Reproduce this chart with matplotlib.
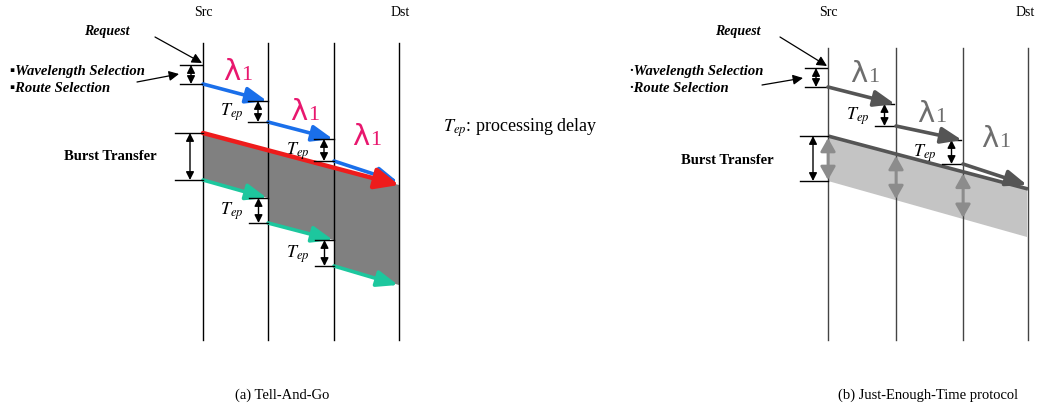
import numpy as np
import matplotlib.pyplot as plt

plt.rcParams['font.family'] = ['Liberation Serif', 'DejaVu Sans']
plt.rcParams['mathtext.fontset'] = 'stix'

# node positions along the path (Src ... Dst)
nodes_a = [203, 268, 334, 399]
nodes_b = [828, 896, 963, 1028]

# Tell-And-Go: control packet per hop (send time, arrival time)
request_a = 65
ctrl_start_a = [84, 122, 161]
ctrl_end_a = [101, 139, 182]
burst_top_a = [133, 185]
tail_start_a = [180, 223, 266]
tail_end_a = [198, 240, 285]

# Just-Enough-Time
request_b = 68
ctrl_start_b = [87, 126, 164]
ctrl_end_b = [104, 140, 185]
burst_top_b = [136, 189]
burst_bot_b = [181, 237]

node_labels = ["Src", "Dst"]
captions = ["(a) Tell-And-Go", "(b) Just-Enough-Time protocol"]

BLUE = "#1A6FEA"
RED = "#EE1C1C"
GREEN = "#1DC79E"
PINK = "#E8176E"
DARK = "#555555"


def arrow(ax, p0, p1, color, lw=2.6, hl=0.9, hw=0.35, ms=14, z=4, style="-|>"):
    ax.annotate("", xy=p1, xytext=p0,
                arrowprops=dict(arrowstyle=f"{style},head_length={hl},head_width={hw}",
                                color=color, lw=lw, mutation_scale=ms,
                                shrinkA=0, shrinkB=0),
                zorder=z)


def bracket(ax, x_right, y0, y1, width=20, color="black", ax_off=None):
    # two short ticks with a small double arrow between them
    ax.plot([x_right - width, x_right], [y0, y0], color=color, lw=1, zorder=5)
    ax.plot([x_right - width, x_right], [y1, y1], color=color, lw=1, zorder=5)
    xa = x_right - width / 2 if ax_off is None else x_right - ax_off
    arrow(ax, (xa, y0), (xa, y1), color, lw=1, hl=0.6, hw=0.3, ms=8,
          z=5, style="<|-|>")


def tep(ax, x, y):
    ax.text(x, y, r"$T_{ep}$", fontsize=13, ha="center", va="center", zorder=6)


def lam(ax, x, y, color):
    # symbol-style lambda with a roman subscript 1
    ax.text(x + 4, y + 2, "\u03bb", fontsize=21, color=color, family="DejaVu Sans",
            ha="right", va="baseline", zorder=6)
    ax.text(x + 5, y + 2, "1", fontsize=16, color=color, family="Liberation Serif",
            ha="left", va="baseline", zorder=6)


def left_notes(ax, src, req_y, sel_y0, sel_y1, x_req, x_sel, bullet, arr):
    ax.text(x_req, 32, "Request", fontsize=10, fontweight="bold",
            fontstyle="italic", ha="center", va="center")
    ax.text(x_sel, 71, bullet + "Wavelength Selection", fontsize=10.5,
            fontweight="bold", fontstyle="italic", ha="left", va="center")
    ax.text(x_sel, 88, bullet + "Route Selection", fontsize=10.5,
            fontweight="bold", fontstyle="italic", ha="left", va="center")
    ax.annotate("", xy=(src - 1, req_y - 2), xytext=arr[0],
                arrowprops=dict(arrowstyle="-|>,head_length=0.6,head_width=0.3",
                                color="black", lw=0.9, mutation_scale=10,
                                shrinkA=0, shrinkB=0))
    ax.annotate("", xy=arr[2], xytext=arr[1],
                arrowprops=dict(arrowstyle="-|>,head_length=0.6,head_width=0.3",
                                color="black", lw=0.9, mutation_scale=10,
                                shrinkA=0, shrinkB=0))
    bracket(ax, src - 1, sel_y0, sel_y1, width=22)


fig = plt.figure(figsize=(10.43, 4.09), dpi=100)
ax = fig.add_axes([0, 0, 1, 1])
ax.set_xlim(0, 1043)
ax.set_ylim(409, 0)
ax.axis("off")

# ---------------- (a) Tell-And-Go ----------------
for x in nodes_a:
    ax.plot([x, x], [43, 340], color="black", lw=1, zorder=3)
ax.text(nodes_a[0], 12, node_labels[0], fontsize=10, ha="center", va="center")
ax.text(nodes_a[-1] + 1, 12, node_labels[1], fontsize=10, ha="center", va="center")

left_notes(ax, nodes_a[0], request_a, request_a, ctrl_start_a[0], 107, 10, "\u25aa",
           [(155, 37), (137, 82), (179, 74)])

# burst body: top edge is the burst head, bottom edge follows the tail per hop
poly = [(nodes_a[0], burst_top_a[0]), (nodes_a[-1], burst_top_a[1])]
for i in range(len(nodes_a) - 2, -1, -1):
    poly.append((nodes_a[i + 1], tail_end_a[i]))
    poly.append((nodes_a[i], tail_start_a[i]))
ax.add_patch(plt.Polygon(poly, closed=True, facecolor="#808080",
                         edgecolor="none", zorder=2))

for i in range(3):
    arrow(ax, (nodes_a[i], ctrl_start_a[i]), (nodes_a[i + 1] - 1, ctrl_end_a[i]), BLUE)
    arrow(ax, (nodes_a[i], tail_start_a[i]), (nodes_a[i + 1] - 1, tail_end_a[i]), GREEN)
arrow(ax, (nodes_a[0], burst_top_a[0]), (nodes_a[-1], burst_top_a[1]), RED,
      lw=3.2, hl=0.9, hw=0.4, ms=16, z=4)

for i in range(2):
    bracket(ax, nodes_a[i + 1], ctrl_end_a[i], ctrl_start_a[i + 1], width=20)
    tep(ax, nodes_a[i + 1] - 36, (ctrl_end_a[i] + ctrl_start_a[i + 1]) / 2 + 1)
    bracket(ax, nodes_a[i + 1], tail_end_a[i], tail_start_a[i + 1], width=19)
    tep(ax, nodes_a[i + 1] - 36, (tail_end_a[i] + tail_start_a[i + 1]) / 2 + 1)

for x, y in [(236, 78), (303, 118), (365, 143)]:
    lam(ax, x, y, PINK)

bracket(ax, nodes_a[0], burst_top_a[0], tail_start_a[0], width=28, ax_off=13)
ax.text(110, 156, "Burst Transfer", fontsize=10.5, fontweight="bold",
        ha="center", va="center")

ax.text(443, 128, r"$T_{ep}$: processing delay", fontsize=13,
        ha="left", va="center")

# ---------------- (b) Just-Enough-Time ----------------
ax.add_patch(plt.Polygon([(nodes_b[0], burst_top_b[0]), (nodes_b[-1] - 1, burst_top_b[1]),
                          (nodes_b[-1] - 1, burst_bot_b[1]), (nodes_b[0], burst_bot_b[0])],
                         closed=True, facecolor="#C4C4C4", edgecolor="none", zorder=2))
for x in nodes_b:
    ax.plot([x, x], [48, 340], color="#444444", lw=1, zorder=3)
ax.text(nodes_b[0], 12, node_labels[0], fontsize=10, ha="center", va="center")
ax.text(nodes_b[-1] - 3, 12, node_labels[1], fontsize=10, ha="center", va="center")

left_notes(ax, nodes_b[0], request_b, request_b, ctrl_start_b[0], 738, 630, "\u00b7",
           [(780, 37), (762, 85), (803, 78)])

# burst head line and the burst duration seen at each node
ax.plot([nodes_b[0], nodes_b[-1]], burst_top_b, color=DARK, lw=2.6, zorder=4,
        solid_capstyle="butt")
span = nodes_b[-1] - nodes_b[0]
for x in nodes_b[:-1]:
    f = (x - nodes_b[0]) / span
    yt = burst_top_b[0] + f * (burst_top_b[1] - burst_top_b[0])
    yb = burst_bot_b[0] + f * (burst_bot_b[1] - burst_bot_b[0])
    arrow(ax, (x, yt + 2), (x, yb - 1), "#8C8C8C", lw=2, hl=0.8, hw=0.45,
          ms=10, z=5, style="<|-|>")

for i in range(3):
    arrow(ax, (nodes_b[i], ctrl_start_b[i]), (nodes_b[i + 1] - 1, ctrl_end_b[i]),
          DARK, z=6)
for i in range(2):
    bracket(ax, nodes_b[i + 1] - 2, ctrl_end_b[i], ctrl_start_b[i + 1], width=19)
    tep(ax, nodes_b[i + 1] - 38, (ctrl_end_b[i] + ctrl_start_b[i + 1]) / 2 + 1)

for x, y in [(863, 80), (930, 120), (994, 145)]:
    lam(ax, x, y, "#6E6E6E")

bracket(ax, nodes_b[0], burst_top_b[0], burst_bot_b[0], width=28, ax_off=15)
ax.text(727, 160, "Burst Transfer", fontsize=10.5, fontweight="bold",
        ha="center", va="center")

ax.text(282, 395, captions[0], fontsize=10.5, ha="center", va="center")
ax.text(928, 395, captions[1], fontsize=10.5, ha="center", va="center")

fig.savefig("out.png", dpi=100)
